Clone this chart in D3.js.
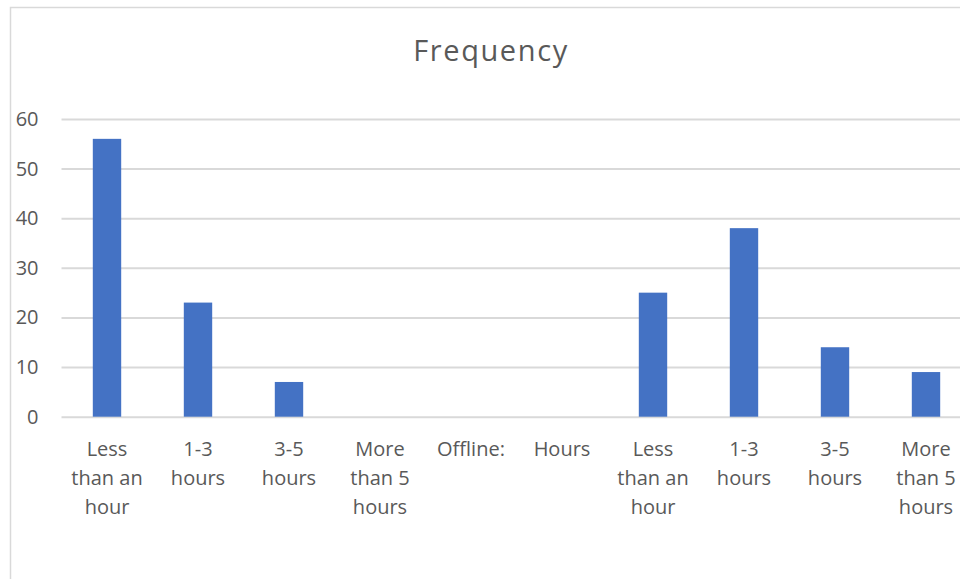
<!DOCTYPE html>
<html>
<head>
<meta charset="utf-8">
<script src="https://cdn.jsdelivr.net/npm/d3@7"></script>
<style>
  html, body { margin: 0; padding: 0; background: #fff; overflow: hidden; }
  svg { display: block; font-family: "Open Sans", "Noto Sans", sans-serif; }
</style>
</head>
<body>
<svg id="chart" width="960" height="579"></svg>
<script>
// Survey answers: online hours, then offline hours
const categories = [
  "Less\nthan an\nhour", "1-3\nhours", "3-5\nhours", "More\nthan 5\nhours",
  "Offline:", "Hours",
  "Less\nthan an\nhour", "1-3\nhours", "3-5\nhours", "More\nthan 5\nhours"
];
const frequency = [56, 23, 7, 0, 0, 0, 25, 38, 14, 9];
const yTicks = [0, 10, 20, 30, 40, 50, 60];
const title = "Frequency";

const svg = d3.select("#chart");
const plot = { left: 61.5, right: 971.5, top: 119, bottom: 416.7 };
const textColor = "#595959";
const gridColor = "#d9d9d9";

// chart border
svg.append("rect")
  .attr("x", 10.5).attr("y", 7.5)
  .attr("width", 1000).attr("height", 700)
  .attr("fill", "none")
  .attr("stroke", gridColor)
  .attr("stroke-width", 1.5);

const x = d3.scaleBand()
  .domain(d3.range(categories.length))
  .range([plot.left, plot.right])
  .paddingInner(0.688)
  .paddingOuter(0.344);

const y = d3.scaleLinear()
  .domain([0, 60])
  .range([plot.bottom, plot.top]);

// horizontal gridlines and value labels
const yAxis = d3.axisLeft(y)
  .tickValues(yTicks)
  .tickSize(-(plot.right - plot.left))
  .tickPadding(23);

const gy = svg.append("g")
  .attr("transform", `translate(${plot.left},0)`)
  .call(yAxis);
gy.select(".domain").remove();
gy.selectAll(".tick line")
  .attr("stroke", gridColor)
  .attr("stroke-width", 2);
gy.selectAll(".tick text")
  .attr("fill", textColor)
  .attr("font-size", 20)
  .attr("font-family", "'Open Sans', sans-serif");

// bars
svg.append("g")
  .selectAll("rect")
  .data(frequency)
  .join("rect")
  .attr("x", (d, i) => x(i))
  .attr("width", x.bandwidth())
  .attr("y", d => y(d))
  .attr("height", d => y(0) - y(d))
  .attr("fill", "#4472C4");

// category labels, one tspan per line
const labels = svg.append("g")
  .selectAll("text")
  .data(categories)
  .join("text")
  .attr("x", (d, i) => x(i) + x.bandwidth() / 2)
  .attr("y", 456)
  .attr("text-anchor", "middle")
  .attr("fill", textColor)
  .attr("font-size", 20);
labels.selectAll("tspan")
  .data(function (d, i) {
    const cx = x(i) + x.bandwidth() / 2;
    return d.split("\n").map((t, k) => ({ t, k, cx }));
  })
  .join("tspan")
  .attr("x", d => d.cx)
  .attr("dy", d => d.k === 0 ? 0 : 29)
  .text(d => d.t);

// title
svg.append("text")
  .attr("x", 491)
  .attr("y", 61)
  .attr("text-anchor", "middle")
  .attr("fill", textColor)
  .attr("font-size", 29)
  .attr("letter-spacing", 1.6)
  .text(title);
</script>
</body>
</html>
